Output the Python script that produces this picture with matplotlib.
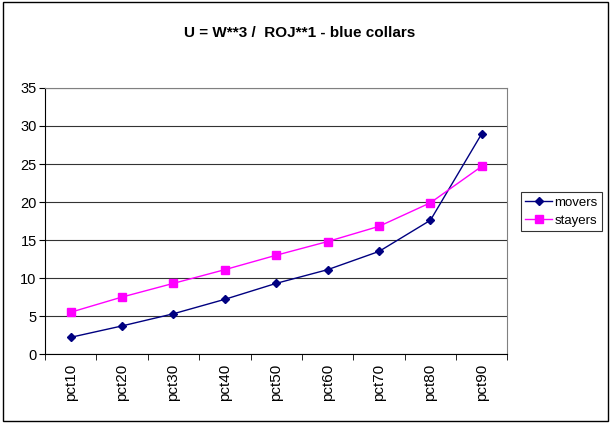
import numpy as np
import matplotlib.pyplot as plt
from matplotlib.patches import Rectangle

plt.rcParams['font.family'] = ['Liberation Sans', 'DejaVu Sans']

categories = ['pct10', 'pct20', 'pct30', 'pct40', 'pct50', 'pct60', 'pct70', 'pct80', 'pct90']
movers = [2.2, 3.7, 5.3, 7.2, 9.3, 11.1, 13.5, 17.6, 29.0]
stayers = [5.5, 7.5, 9.3, 11.1, 13.0, 14.8, 16.8, 19.9, 24.7]
yticks = [0, 5, 10, 15, 20, 25, 30, 35]

fig = plt.figure(figsize=(6.11, 4.23), dpi=100)
fig.patches.append(Rectangle((0.005, 0.005), 0.99, 0.99, transform=fig.transFigure,
                             fill=False, edgecolor='black', linewidth=1))
ax = fig.add_axes([0.0736, 0.163, 0.757, 0.629])

x = np.arange(len(categories))
ax.plot(x, movers, color='#000080', marker='D', markersize=4.5, linewidth=1, label='movers')
ax.plot(x, stayers, color='#FF00FF', marker='s', markersize=6, linewidth=1, label='stayers')

ax.set_xlim(-0.5, len(categories) - 0.5)
ax.set_ylim(0, 35)
ax.set_yticks(yticks)
ax.set_xticks(x)
ax.set_xticklabels(categories, rotation=90, fontsize=11)
ax.tick_params(axis='x', length=0, pad=7)
ax.set_xticks(np.arange(len(categories) + 1) - 0.5, minor=True)
ax.tick_params(axis='x', which='minor', length=4, direction='out', color='black')
ax.tick_params(axis='y', labelsize=10.5, length=4, direction='out', pad=2)
ax.yaxis.grid(True, color='#333333', linewidth=0.8)
ax.set_axisbelow(True)
for side in ['top', 'right']:
    ax.spines[side].set_color('#808080')
for side in ['left', 'bottom']:
    ax.spines[side].set_color('black')

fig.text(0.49, 0.922, 'U = W**3 /  ROJ**1 - blue collars', ha='center', va='center',
         fontsize=11, fontweight='bold')

leg = fig.legend(loc='center left', bbox_to_anchor=(0.848, 0.5), fontsize=9.5,
                 frameon=True, fancybox=False, edgecolor='black', borderpad=0.35,
                 handlelength=2.0, labelspacing=0.45, handletextpad=0.2,
                 borderaxespad=0.2)
leg.get_frame().set_linewidth(0.8)

fig.savefig('out.png', dpi=100)
